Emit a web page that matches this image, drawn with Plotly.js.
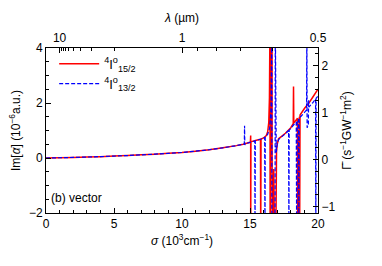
<!DOCTYPE html>
<html>
<head>
<meta charset="utf-8">
<script src="https://cdn.plot.ly/plotly-3.0.1.min.js"></script>
<style>html,body{margin:0;padding:0;background:#fff;}#chart{width:382px;height:266px;}</style>
</head>
<body>
<div id="chart"></div>
<script>
// sigma in 10^3 cm^-1, Im[alpha] in 10^-6 a.u.  (off-scale resonance values at -3 / 5)
var sigma15 = [0,1,2,3,4,5,6,7,8,9,10,11,12,13,14,14.5,15.0,15.03,15.05,15.05,15.07,15.4,15.77,15.79,15.81,16.0,16.2,16.3,16.38,16.43,16.47,16.48,16.56,16.62,16.63,16.75,16.8,16.9,16.95,17.0,17.1,17.3,17.6,18.0,18.18,18.2,18.22,18.45,18.49,18.51,18.63,18.65,18.68,19.0,19.3,19.6,20];
var im15    = [0,0.01,0.02,0.035,0.05,0.07,0.09,0.115,0.14,0.17,0.2,0.25,0.3,0.37,0.45,0.5,0.57,0.58,0.82,-3,0.59,0.64,0.68,-3,0.69,0.73,0.82,0.95,1.3,2.2,5,-3,5,5,-3,-0.4,-3,-3,0.25,0.5,0.7,0.78,0.9,1.1,1.25,2.6,1.27,1.42,1.45,-3,1.5,-3,1.56,1.8,1.98,2.2,2.5];
var sigma13 = [0,1,2,3,4,5,6,7,8,9,10,11,12,13,14,14.5,14.58,14.6,14.62,14.64,15.0,15.35,15.37,15.39,15.78,16.08,16.1,16.12,16.3,16.45,16.55,16.6,16.61,16.84,16.86,16.93,17.0,17.1,17.3,17.6,17.84,17.86,17.88,18.0,18.2,18.4,18.43,18.46,18.57,18.59,18.61,18.9,19.16,19.18,19.2,19.29,19.31,19.33,19.6,19.82,19.84,19.86,20];
var im13    = [0,0.01,0.02,0.035,0.05,0.07,0.09,0.115,0.14,0.17,0.2,0.25,0.3,0.37,0.45,0.5,0.5,1.17,0.47,0.51,0.57,0.62,-3,0.63,0.68,0.75,-3,0.76,0.86,1.1,1.8,5,-3,-3,5,0.2,0.5,0.67,0.76,0.88,1.0,-3,1.01,1.08,1.2,1.3,-3,1.35,1.42,-3,1.44,1.6,1.75,5,1.1,1.2,2.1,1.85,2.0,2.15,-3,2.17,2.25];
var seriesNames = ['<sup>4</sup>I<sup>o</sup><sub>15/2</sub>', '<sup>4</sup>I<sup>o</sup><sub>13/2</sub>'];
var lambdaMajor = [10, 1, 0.5];           // µm, labelled on top axis
var lambdaMinor = [9,8,7,6,5,4,3,2,0.9,0.8,0.7,0.6];
var sigmaTicks = [0,5,10,15,20];

var F = 'Liberation Sans, Arial, sans-serif';
var traces = [
  {x: sigma15, y: im15, type:'scatter', mode:'lines', name: seriesNames[0],
   line:{color:'#ff0000', width:1.5, simplify:false}, xaxis:'x', yaxis:'y'},
  {x: sigma13, y: im13, type:'scatter', mode:'lines', name: seriesNames[1],
   line:{color:'#0000ff', width:1.2, dash:'4px,2px', simplify:false}, xaxis:'x', yaxis:'y'},
  {x: [], y: [], xaxis:'x2', yaxis:'y', showlegend:false, hoverinfo:'skip', type:'scatter'},
  {x: [], y: [], xaxis:'x', yaxis:'y2', showlegend:false, hoverinfo:'skip', type:'scatter'}
];
var ax = {showgrid:false, zeroline:false, showline:true, linecolor:'#000', linewidth:1,
  ticks:'inside', ticklen:5, tickcolor:'#000', tickfont:{family:F, size:12, color:'#000'}};
function merge(a,b){var o={};for(var k in a)o[k]=a[k];for(var k2 in b)o[k2]=b[k2];return o;}
var layout = {
  width:382, height:266, margin:{l:46, r:64, t:48, b:53},
  paper_bgcolor:'#fff', plot_bgcolor:'#fff', font:{family:F, size:12, color:'#000'},
  showlegend:true,
  legend:{x:0.03, y:0.995, xanchor:'left', yanchor:'top', bgcolor:'rgba(0,0,0,0)', font:{family:F, size:13}, tracegroupgap:0, itemwidth:40},
  xaxis: merge(ax, {range:[0,20], tickmode:'array', tickvals:sigmaTicks,
    minor:{dtick:1, ticklen:3, ticks:'inside', tickcolor:'#000'},
    title:{text:'<i>σ</i> (10<sup>3</sup>cm<sup>−1</sup>)', font:{family:F, size:12}, standoff:6}}),
  xaxis2: merge(ax, {range:[0,20], overlaying:'x', side:'top', anchor:'y', tickmode:'array',
    tickvals: lambdaMajor.map(function(l){return 10/l;}), ticktext: lambdaMajor.map(String),
    minor:{tickmode:'array', tickvals: lambdaMinor.map(function(l){return 10/l;}), ticklen:3, ticks:'inside', tickcolor:'#000'},
    title:{text:'<i>λ</i> (µm)', font:{family:F, size:12}, standoff:6}}),
  yaxis: merge(ax, {range:[-2,4], tickmode:'linear', tick0:0, dtick:2,
    minor:{dtick:0.5, ticklen:3, ticks:'inside', tickcolor:'#000'},
    title:{text:'Im[<i>α</i>] (10<sup>−6</sup>a.u.)', font:{family:F, size:12}, standoff:5}}),
  yaxis2: merge(ax, {range:[-1.135,2.377], overlaying:'y', side:'right', anchor:'x', tickmode:'linear', tick0:0, dtick:1,
    minor:{dtick:0.25, ticklen:3, ticks:'inside', tickcolor:'#000'},
    title:{text:'Γ\u0304 (s<sup>−1</sup>GW<sup>−1</sup>m<sup>2</sup>)', font:{family:F, size:12}, standoff:8}}),
  annotations:[{text:'(b) vector', xref:'paper', yref:'paper', x:0.012, y:0.09, xanchor:'left', yanchor:'middle', showarrow:false, font:{family:F, size:12}}]
};
Plotly.newPlot('chart', traces, layout, {staticPlot:true, displayModeBar:false});
</script>
</body>
</html>
